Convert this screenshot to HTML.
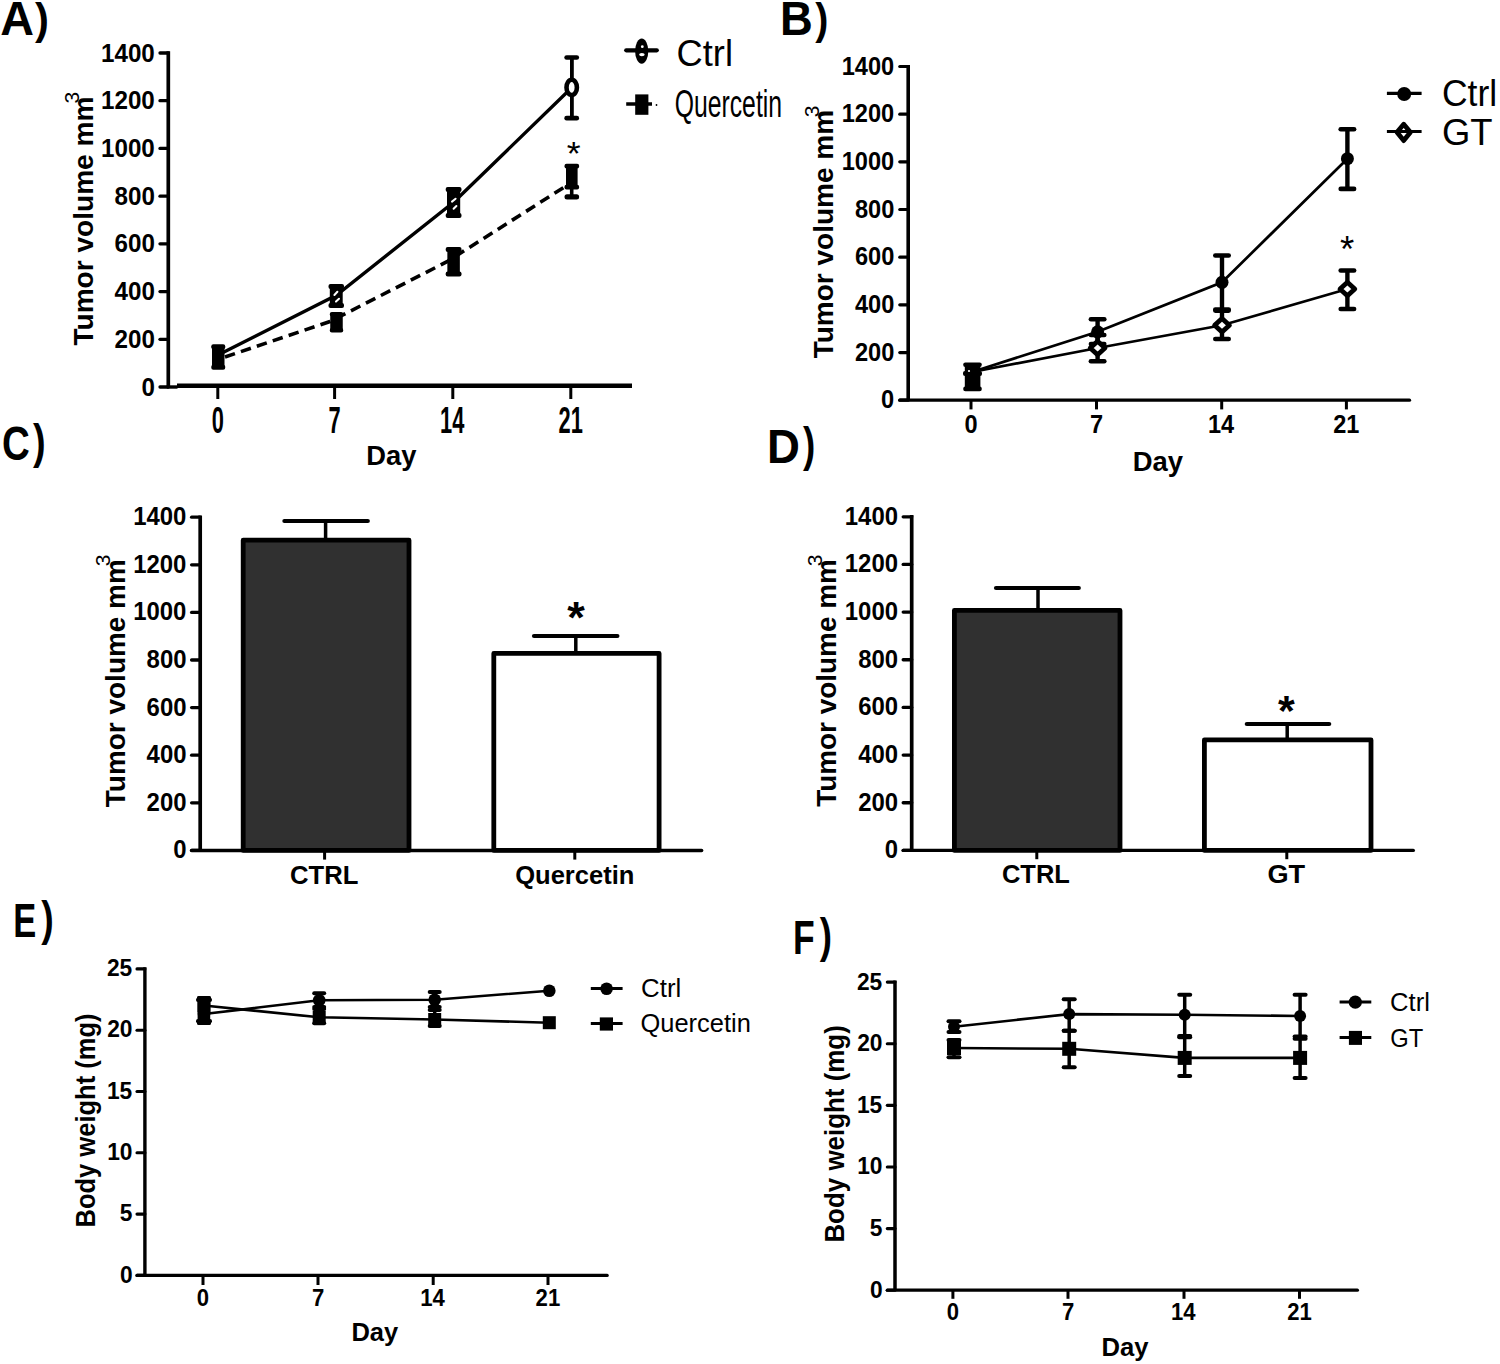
<!DOCTYPE html>
<html><head><meta charset="utf-8"><title>Figure</title>
<style>
html,body{margin:0;padding:0;background:#fff;}
body{width:1500px;height:1364px;overflow:hidden;}
svg{display:block;font-family:"Liberation Sans",sans-serif;}
</style></head><body>
<svg width="1500" height="1364" viewBox="0 0 1500 1364">
<rect x="0" y="0" width="1500" height="1364" fill="#fff"/>
<g fill="#000" stroke="#000">
<text stroke="none" x="0.3" y="34.7" font-size="47.39" font-weight="bold" textLength="33.74" lengthAdjust="spacingAndGlyphs">A</text>
<text stroke="none" x="35" y="33.74" font-size="44.09" font-weight="bold" textLength="13.91" lengthAdjust="spacingAndGlyphs">)</text>
<line x1="168.3" y1="51.3" x2="168.3" y2="387" stroke-width="3.7"/>
<line x1="160" y1="387" x2="168.3" y2="387" stroke-width="3.3" stroke-linecap="round"/>
<text stroke="none" x="141.42" y="395.5" font-size="26.3" font-weight="bold" textLength="13.46" lengthAdjust="spacingAndGlyphs">0</text>
<line x1="160" y1="339.29" x2="168.3" y2="339.29" stroke-width="3.3" stroke-linecap="round"/>
<text stroke="none" x="114.56" y="347.79" font-size="26.3" font-weight="bold" textLength="40.37" lengthAdjust="spacingAndGlyphs">200</text>
<line x1="160" y1="291.57" x2="168.3" y2="291.57" stroke-width="3.3" stroke-linecap="round"/>
<text stroke="none" x="114.56" y="300.07" font-size="26.3" font-weight="bold" textLength="40.37" lengthAdjust="spacingAndGlyphs">400</text>
<line x1="160" y1="243.86" x2="168.3" y2="243.86" stroke-width="3.3" stroke-linecap="round"/>
<text stroke="none" x="114.56" y="252.36" font-size="26.3" font-weight="bold" textLength="40.37" lengthAdjust="spacingAndGlyphs">600</text>
<line x1="160" y1="196.14" x2="168.3" y2="196.14" stroke-width="3.3" stroke-linecap="round"/>
<text stroke="none" x="114.56" y="204.64" font-size="26.3" font-weight="bold" textLength="40.37" lengthAdjust="spacingAndGlyphs">800</text>
<line x1="160" y1="148.43" x2="168.3" y2="148.43" stroke-width="3.3" stroke-linecap="round"/>
<text stroke="none" x="101.01" y="156.93" font-size="26.3" font-weight="bold" textLength="53.82" lengthAdjust="spacingAndGlyphs">1000</text>
<line x1="160" y1="100.71" x2="168.3" y2="100.71" stroke-width="3.3" stroke-linecap="round"/>
<text stroke="none" x="101.01" y="109.21" font-size="26.3" font-weight="bold" textLength="53.82" lengthAdjust="spacingAndGlyphs">1200</text>
<line x1="160" y1="53" x2="168.3" y2="53" stroke-width="3.3" stroke-linecap="round"/>
<text stroke="none" x="101.01" y="61.5" font-size="26.3" font-weight="bold" textLength="53.82" lengthAdjust="spacingAndGlyphs">1400</text>
<line x1="177" y1="385.7" x2="632" y2="385.7" stroke-width="4.4"/>
<line x1="166.8" y1="387" x2="177.5" y2="387" stroke-width="3.4"/>
<line x1="217.8" y1="386" x2="217.8" y2="399" stroke-width="3"/>
<text stroke="none" x="211.69" y="432.6" font-size="37" font-weight="bold" textLength="12.14" lengthAdjust="spacingAndGlyphs">0</text>
<line x1="334.6" y1="386" x2="334.6" y2="399" stroke-width="3"/>
<text stroke="none" x="328.6" y="432.6" font-size="37" font-weight="bold" textLength="12.14" lengthAdjust="spacingAndGlyphs">7</text>
<line x1="452.8" y1="386" x2="452.8" y2="399" stroke-width="3"/>
<text stroke="none" x="440.03" y="432.6" font-size="37" font-weight="bold" textLength="24.28" lengthAdjust="spacingAndGlyphs">14</text>
<line x1="570.8" y1="386" x2="570.8" y2="399" stroke-width="3"/>
<text stroke="none" x="558.58" y="432.6" font-size="37" font-weight="bold" textLength="24.28" lengthAdjust="spacingAndGlyphs">21</text>
<text stroke="none" x="366.29" y="464.9" font-size="28" font-weight="bold" textLength="50.13" lengthAdjust="spacingAndGlyphs">Day</text>
<text stroke="none" transform="translate(93.4,345.3) rotate(-90)" x="-0.28" y="0" font-size="28" font-weight="bold" textLength="249" lengthAdjust="spacingAndGlyphs">Tumor volume mm</text>
<text stroke="none" transform="translate(79,102.7) rotate(-90)" x="-0.84" y="0" font-size="21" font-weight="normal" textLength="11.71" lengthAdjust="spacingAndGlyphs">3</text>
<polyline points="225,357 330,321.5 447,261.7 566,186" fill="none" stroke-width="3.6" stroke-dasharray="10.5 6.3"/>
<polyline points="222,353 336.3,295.3 453.9,202 571.9,87.5" fill="none" stroke-width="3.4"/>
<rect x="212" y="345.3" width="12.5" height="23.4" fill="#000" stroke="none"/>
<rect x="211.3" y="344.3" width="13.9" height="5" rx="2" fill="#000" stroke="none"/>
<rect x="211.3" y="364.7" width="13.9" height="5" rx="2" fill="#000" stroke="none"/>
<rect x="329.8" y="285" width="12.9" height="22" fill="#000" stroke="none"/>
<rect x="328.5" y="284" width="15.5" height="5" rx="2" fill="#000" stroke="none"/>
<rect x="328.5" y="303" width="15.5" height="5" rx="2" fill="#000" stroke="none"/>
<line x1="334.4" y1="295" x2="337.4" y2="291.8" stroke="#fff" stroke-width="2" stroke-linecap="round"/>
<line x1="336" y1="301.6" x2="339" y2="298.8" stroke="#fff" stroke-width="2" stroke-linecap="round"/>
<rect x="330.25" y="313.1" width="12.5" height="18.3" fill="#000" stroke="none"/>
<rect x="329.8" y="312.1" width="13.4" height="4.5" rx="2" fill="#000" stroke="none"/>
<rect x="329.8" y="327.9" width="13.4" height="4.5" rx="2" fill="#000" stroke="none"/>
<rect x="447" y="188" width="13.2" height="29" fill="#000" stroke="none"/>
<rect x="445.7" y="187" width="15.8" height="5" rx="2" fill="#000" stroke="none"/>
<rect x="445.7" y="213" width="15.8" height="5" rx="2" fill="#000" stroke="none"/>
<line x1="452" y1="201.6" x2="455.6" y2="198.7" stroke="#fff" stroke-width="2" stroke-linecap="round"/>
<line x1="453.6" y1="208.8" x2="456.4" y2="206" stroke="#fff" stroke-width="2" stroke-linecap="round"/>
<rect x="447.35" y="248" width="12.5" height="27.5" fill="#000" stroke="none"/>
<rect x="445.7" y="247" width="15.8" height="5" rx="2" fill="#000" stroke="none"/>
<rect x="445.7" y="271.5" width="15.8" height="5" rx="2" fill="#000" stroke="none"/>
<line x1="571.9" y1="59" x2="571.9" y2="116.5" stroke-width="3.8"/>
<rect x="564.3" y="55.2" width="14.8" height="4.6" rx="2.3" fill="#000" stroke="none"/>
<rect x="564.3" y="115.8" width="14.8" height="4.8" rx="2.3" fill="#000" stroke="none"/>
<ellipse cx="571.7" cy="87.4" rx="5.2" ry="7.6" fill="#fff" stroke-width="4.6"/>
<line x1="570.5" y1="90.5" x2="572.8" y2="85.5" stroke="#fff" stroke-width="1.6" stroke-linecap="round"/>
<rect x="566" y="164.8" width="11.6" height="23.8" fill="#000" stroke="none"/>
<rect x="564.5" y="163.8" width="14.6" height="4.8" rx="2" fill="#000" stroke="none"/>
<rect x="564.5" y="184.8" width="14.6" height="4.8" rx="2" fill="#000" stroke="none"/>
<line x1="571.7" y1="189" x2="571.7" y2="196" stroke-width="3.6"/>
<rect x="564.5" y="194.2" width="14.6" height="5.2" rx="2.5" fill="#000" stroke="none"/>
<text stroke="none" x="566.79" y="164.5" font-size="34" font-weight="normal" textLength="13.9" lengthAdjust="spacingAndGlyphs">*</text>
<line x1="626.2" y1="50.3" x2="656.8" y2="50.3" stroke-width="4.2" stroke-linecap="round"/>
<ellipse cx="641.7" cy="51.1" rx="6.6" ry="12.6" fill="#000" stroke="none"/>
<circle cx="642.3" cy="46.7" r="1.4" fill="#fff" stroke="none"/>
<ellipse cx="641.9" cy="54.6" rx="2.8" ry="1.7" fill="#fff" stroke="none"/>
<text stroke="none" x="676.59" y="66.2" font-size="36" font-weight="normal" textLength="56.37" lengthAdjust="spacingAndGlyphs">Ctrl</text>
<line x1="626.2" y1="104" x2="652" y2="104" stroke-width="3.5"/>
<rect x="635.2" y="94.4" width="13.2" height="20.4" fill="#000" stroke="none"/>
<circle cx="656.5" cy="105" r="0.9" fill="#000" stroke="none"/>
<text stroke="none" x="674.76" y="117.2" font-size="38" font-weight="normal" textLength="107.25" lengthAdjust="spacingAndGlyphs">Quercetin</text>
<text stroke="none" x="779.92" y="34.7" font-size="47.54" font-weight="bold" textLength="32.79" lengthAdjust="spacingAndGlyphs">B</text>
<text stroke="none" x="815.3" y="33.64" font-size="44.09" font-weight="bold" textLength="13.08" lengthAdjust="spacingAndGlyphs">)</text>
<line x1="908.2" y1="64.9" x2="908.2" y2="400.2" stroke-width="3.6"/>
<line x1="899.8" y1="400.2" x2="908.2" y2="400.2" stroke-width="3.2" stroke-linecap="round"/>
<text stroke="none" x="881.12" y="408.4" font-size="25.4" font-weight="bold" textLength="13.14" lengthAdjust="spacingAndGlyphs">0</text>
<line x1="899.8" y1="352.53" x2="908.2" y2="352.53" stroke-width="3.2" stroke-linecap="round"/>
<text stroke="none" x="854.9" y="360.73" font-size="25.4" font-weight="bold" textLength="39.41" lengthAdjust="spacingAndGlyphs">200</text>
<line x1="899.8" y1="304.86" x2="908.2" y2="304.86" stroke-width="3.2" stroke-linecap="round"/>
<text stroke="none" x="854.9" y="313.06" font-size="25.4" font-weight="bold" textLength="39.41" lengthAdjust="spacingAndGlyphs">400</text>
<line x1="899.8" y1="257.19" x2="908.2" y2="257.19" stroke-width="3.2" stroke-linecap="round"/>
<text stroke="none" x="854.9" y="265.39" font-size="25.4" font-weight="bold" textLength="39.41" lengthAdjust="spacingAndGlyphs">600</text>
<line x1="899.8" y1="209.51" x2="908.2" y2="209.51" stroke-width="3.2" stroke-linecap="round"/>
<text stroke="none" x="854.9" y="217.71" font-size="25.4" font-weight="bold" textLength="39.41" lengthAdjust="spacingAndGlyphs">800</text>
<line x1="899.8" y1="161.84" x2="908.2" y2="161.84" stroke-width="3.2" stroke-linecap="round"/>
<text stroke="none" x="841.67" y="170.04" font-size="25.4" font-weight="bold" textLength="52.54" lengthAdjust="spacingAndGlyphs">1000</text>
<line x1="899.8" y1="114.17" x2="908.2" y2="114.17" stroke-width="3.2" stroke-linecap="round"/>
<text stroke="none" x="841.67" y="122.37" font-size="25.4" font-weight="bold" textLength="52.54" lengthAdjust="spacingAndGlyphs">1200</text>
<line x1="899.8" y1="66.5" x2="908.2" y2="66.5" stroke-width="3.2" stroke-linecap="round"/>
<text stroke="none" x="841.67" y="74.7" font-size="25.4" font-weight="bold" textLength="52.54" lengthAdjust="spacingAndGlyphs">1400</text>
<line x1="899.8" y1="400.2" x2="1409.5" y2="400.2" stroke-width="3.3" stroke-linecap="round"/>
<line x1="971" y1="400" x2="971" y2="409.4" stroke-width="3"/>
<text stroke="none" x="964.41" y="433.3" font-size="25.6" font-weight="bold" textLength="13.1" lengthAdjust="spacingAndGlyphs">0</text>
<line x1="1096.5" y1="400" x2="1096.5" y2="409.4" stroke-width="3"/>
<text stroke="none" x="1090.02" y="433.3" font-size="25.6" font-weight="bold" textLength="13.1" lengthAdjust="spacingAndGlyphs">7</text>
<line x1="1221.7" y1="400" x2="1221.7" y2="409.4" stroke-width="3"/>
<text stroke="none" x="1207.92" y="433.3" font-size="25.6" font-weight="bold" textLength="26.19" lengthAdjust="spacingAndGlyphs">14</text>
<line x1="1346.4" y1="400" x2="1346.4" y2="409.4" stroke-width="3"/>
<text stroke="none" x="1333.21" y="433.3" font-size="25.6" font-weight="bold" textLength="26.19" lengthAdjust="spacingAndGlyphs">21</text>
<text stroke="none" x="1132.78" y="471.4" font-size="28" font-weight="bold" textLength="50.34" lengthAdjust="spacingAndGlyphs">Day</text>
<text stroke="none" transform="translate(833.4,358) rotate(-90)" x="-0.28" y="0" font-size="28" font-weight="bold" textLength="248.4" lengthAdjust="spacingAndGlyphs">Tumor volume mm</text>
<text stroke="none" transform="translate(819,116.4) rotate(-90)" x="-0.84" y="0" font-size="21" font-weight="normal" textLength="11.71" lengthAdjust="spacingAndGlyphs">3</text>
<polyline points="972,372 1097.6,331.8 1222,282.3 1347.4,158.7" fill="none" stroke-width="2.7"/>
<polyline points="972,372 1097.6,348 1222,325.3 1347.4,289" fill="none" stroke-width="2.7"/>
<line x1="1097.6" y1="319.2" x2="1097.6" y2="344" stroke-width="4.4"/>
<line x1="1090.9" y1="319.2" x2="1104.3" y2="319.2" stroke-width="4.6" stroke-linecap="round"/>
<line x1="1090.9" y1="344" x2="1104.3" y2="344" stroke-width="4.6" stroke-linecap="round"/>
<line x1="1222" y1="255.5" x2="1222" y2="309.5" stroke-width="4.4"/>
<line x1="1215.3" y1="255.5" x2="1228.7" y2="255.5" stroke-width="4.6" stroke-linecap="round"/>
<line x1="1215.3" y1="309.5" x2="1228.7" y2="309.5" stroke-width="4.6" stroke-linecap="round"/>
<line x1="1347.4" y1="129.3" x2="1347.4" y2="188.9" stroke-width="4.4"/>
<line x1="1340.7" y1="129.3" x2="1354.1" y2="129.3" stroke-width="4.6" stroke-linecap="round"/>
<line x1="1340.7" y1="188.9" x2="1354.1" y2="188.9" stroke-width="4.6" stroke-linecap="round"/>
<line x1="1097.6" y1="335" x2="1097.6" y2="361.2" stroke-width="4.4"/>
<line x1="1090.9" y1="335" x2="1104.3" y2="335" stroke-width="4.6" stroke-linecap="round"/>
<line x1="1090.9" y1="361.2" x2="1104.3" y2="361.2" stroke-width="4.6" stroke-linecap="round"/>
<line x1="1222" y1="310.6" x2="1222" y2="339" stroke-width="4.4"/>
<line x1="1215.3" y1="310.6" x2="1228.7" y2="310.6" stroke-width="4.6" stroke-linecap="round"/>
<line x1="1215.3" y1="339" x2="1228.7" y2="339" stroke-width="4.6" stroke-linecap="round"/>
<line x1="1347.4" y1="270.5" x2="1347.4" y2="309" stroke-width="4.4"/>
<line x1="1340.7" y1="270.5" x2="1354.1" y2="270.5" stroke-width="4.6" stroke-linecap="round"/>
<line x1="1340.7" y1="309" x2="1354.1" y2="309" stroke-width="4.6" stroke-linecap="round"/>
<circle cx="1097.6" cy="331.8" r="6.5" fill="#000" stroke="none"/>
<circle cx="1222" cy="282.3" r="6.5" fill="#000" stroke="none"/>
<circle cx="1347.4" cy="158.7" r="6.5" fill="#000" stroke="none"/>
<path d="M1097.6,341.2 L1105,348 L1097.6,354.8 L1090.2,348 Z" fill="#fff" stroke-width="4.8" stroke-linejoin="round"/>
<path d="M1222,318.5 L1229.4,325.3 L1222,332.1 L1214.6,325.3 Z" fill="#fff" stroke-width="4.8" stroke-linejoin="round"/>
<path d="M1347.4,282.2 L1354.8,289 L1347.4,295.8 L1340,289 Z" fill="#fff" stroke-width="4.8" stroke-linejoin="round"/>
<rect x="964.8" y="363" width="15.6" height="27.6" fill="#000" stroke="none"/>
<rect x="963.2" y="362.4" width="18.6" height="4.6" rx="2.2" fill="#000" stroke="none"/>
<rect x="963.2" y="386.6" width="18.6" height="4.6" rx="2.2" fill="#000" stroke="none"/>
<rect x="963" y="371" width="19" height="5" rx="2" fill="#000" stroke="none"/>
<circle cx="969" cy="371" r="1.1" fill="#fff" stroke="none"/>
<text stroke="none" x="1340.07" y="262.43" font-size="37" font-weight="normal" textLength="14.23" lengthAdjust="spacingAndGlyphs">*</text>
<line x1="1386.9" y1="93.4" x2="1421.6" y2="93.4" stroke-width="3.2"/>
<circle cx="1404.2" cy="94" r="7" fill="#000" stroke="none"/>
<text stroke="none" x="1441.93" y="106.4" font-size="36" font-weight="normal" textLength="55.19" lengthAdjust="spacingAndGlyphs">Ctrl</text>
<path d="M1403.7,124.2 L1410.4,132.3 L1403.7,140.6 L1397,132.3 Z" fill="#fff" stroke-width="4.8" stroke-linejoin="round"/>
<line x1="1386.9" y1="131.5" x2="1421.6" y2="131.5" stroke-width="3.2"/>
<text stroke="none" x="1441.88" y="144.5" font-size="36" font-weight="normal" textLength="50.6" lengthAdjust="spacingAndGlyphs">GT</text>
<text stroke="none" x="2.06" y="459.82" font-size="47.89" font-weight="bold" textLength="27.78" lengthAdjust="spacingAndGlyphs">C</text>
<text stroke="none" x="32.9" y="458.19" font-size="48.6" font-weight="bold" textLength="12.61" lengthAdjust="spacingAndGlyphs">)</text>
<line x1="200.2" y1="515.5" x2="200.2" y2="850.4" stroke-width="3.7"/>
<line x1="191.6" y1="850.4" x2="200.2" y2="850.4" stroke-width="3.3" stroke-linecap="round"/>
<text stroke="none" x="173.16" y="858.3" font-size="26" font-weight="bold" textLength="13.3" lengthAdjust="spacingAndGlyphs">0</text>
<line x1="191.6" y1="802.8" x2="200.2" y2="802.8" stroke-width="3.3" stroke-linecap="round"/>
<text stroke="none" x="146.61" y="810.7" font-size="26" font-weight="bold" textLength="39.91" lengthAdjust="spacingAndGlyphs">200</text>
<line x1="191.6" y1="755.2" x2="200.2" y2="755.2" stroke-width="3.3" stroke-linecap="round"/>
<text stroke="none" x="146.61" y="763.1" font-size="26" font-weight="bold" textLength="39.91" lengthAdjust="spacingAndGlyphs">400</text>
<line x1="191.6" y1="707.6" x2="200.2" y2="707.6" stroke-width="3.3" stroke-linecap="round"/>
<text stroke="none" x="146.61" y="715.5" font-size="26" font-weight="bold" textLength="39.91" lengthAdjust="spacingAndGlyphs">600</text>
<line x1="191.6" y1="660" x2="200.2" y2="660" stroke-width="3.3" stroke-linecap="round"/>
<text stroke="none" x="146.61" y="667.9" font-size="26" font-weight="bold" textLength="39.91" lengthAdjust="spacingAndGlyphs">800</text>
<line x1="191.6" y1="612.4" x2="200.2" y2="612.4" stroke-width="3.3" stroke-linecap="round"/>
<text stroke="none" x="133.22" y="620.3" font-size="26" font-weight="bold" textLength="53.21" lengthAdjust="spacingAndGlyphs">1000</text>
<line x1="191.6" y1="564.8" x2="200.2" y2="564.8" stroke-width="3.3" stroke-linecap="round"/>
<text stroke="none" x="133.22" y="572.7" font-size="26" font-weight="bold" textLength="53.21" lengthAdjust="spacingAndGlyphs">1200</text>
<line x1="191.6" y1="517.2" x2="200.2" y2="517.2" stroke-width="3.3" stroke-linecap="round"/>
<text stroke="none" x="133.22" y="525.1" font-size="26" font-weight="bold" textLength="53.21" lengthAdjust="spacingAndGlyphs">1400</text>
<rect x="243.2" y="540.2" width="165.8" height="310.2" fill="#303030" stroke-width="4.8" stroke-linejoin="round"/>
<rect x="493.8" y="653.4" width="165.3" height="197" fill="#fff" stroke-width="4.8" stroke-linejoin="round"/>
<line x1="325.6" y1="540" x2="325.6" y2="521" stroke-width="3.5"/>
<line x1="284.4" y1="521" x2="367.8" y2="521" stroke-width="4.2" stroke-linecap="round"/>
<line x1="575.8" y1="653" x2="575.8" y2="636" stroke-width="3.5"/>
<line x1="534" y1="636" x2="617.4" y2="636" stroke-width="4.2" stroke-linecap="round"/>
<line x1="191.6" y1="850.4" x2="701.6" y2="850.4" stroke-width="3.5" stroke-linecap="round"/>
<line x1="324.6" y1="850" x2="324.6" y2="859.6" stroke-width="3"/>
<line x1="574.8" y1="850" x2="574.8" y2="859.6" stroke-width="3"/>
<text stroke="none" x="290.07" y="883.5" font-size="25.5" font-weight="bold" textLength="68.39" lengthAdjust="spacingAndGlyphs">CTRL</text>
<text stroke="none" x="515.18" y="883.5" font-size="25.5" font-weight="bold" textLength="119.3" lengthAdjust="spacingAndGlyphs">Quercetin</text>
<text stroke="none" x="567.2" y="633.4" font-size="45" font-weight="bold" textLength="17.56" lengthAdjust="spacingAndGlyphs">*</text>
<text stroke="none" transform="translate(124.5,806.9) rotate(-90)" x="-0.28" y="0" font-size="28" font-weight="bold" textLength="248" lengthAdjust="spacingAndGlyphs">Tumor volume mm</text>
<text stroke="none" transform="translate(109.8,565.3) rotate(-90)" x="-0.84" y="0" font-size="21" font-weight="normal" textLength="11.71" lengthAdjust="spacingAndGlyphs">3</text>
<text stroke="none" x="767.11" y="463.3" font-size="48.12" font-weight="bold" textLength="32.91" lengthAdjust="spacingAndGlyphs">D</text>
<text stroke="none" x="802.9" y="461.42" font-size="48.49" font-weight="bold" textLength="12.25" lengthAdjust="spacingAndGlyphs">)</text>
<line x1="911.7" y1="515.1" x2="911.7" y2="850.4" stroke-width="3.7"/>
<line x1="903.2" y1="850.4" x2="911.7" y2="850.4" stroke-width="3.3" stroke-linecap="round"/>
<text stroke="none" x="884.76" y="858.3" font-size="26" font-weight="bold" textLength="13.3" lengthAdjust="spacingAndGlyphs">0</text>
<line x1="903.2" y1="802.74" x2="911.7" y2="802.74" stroke-width="3.3" stroke-linecap="round"/>
<text stroke="none" x="858.21" y="810.64" font-size="26" font-weight="bold" textLength="39.91" lengthAdjust="spacingAndGlyphs">200</text>
<line x1="903.2" y1="755.09" x2="911.7" y2="755.09" stroke-width="3.3" stroke-linecap="round"/>
<text stroke="none" x="858.21" y="762.99" font-size="26" font-weight="bold" textLength="39.91" lengthAdjust="spacingAndGlyphs">400</text>
<line x1="903.2" y1="707.43" x2="911.7" y2="707.43" stroke-width="3.3" stroke-linecap="round"/>
<text stroke="none" x="858.21" y="715.33" font-size="26" font-weight="bold" textLength="39.91" lengthAdjust="spacingAndGlyphs">600</text>
<line x1="903.2" y1="659.77" x2="911.7" y2="659.77" stroke-width="3.3" stroke-linecap="round"/>
<text stroke="none" x="858.21" y="667.67" font-size="26" font-weight="bold" textLength="39.91" lengthAdjust="spacingAndGlyphs">800</text>
<line x1="903.2" y1="612.11" x2="911.7" y2="612.11" stroke-width="3.3" stroke-linecap="round"/>
<text stroke="none" x="844.82" y="620.01" font-size="26" font-weight="bold" textLength="53.21" lengthAdjust="spacingAndGlyphs">1000</text>
<line x1="903.2" y1="564.46" x2="911.7" y2="564.46" stroke-width="3.3" stroke-linecap="round"/>
<text stroke="none" x="844.82" y="572.36" font-size="26" font-weight="bold" textLength="53.21" lengthAdjust="spacingAndGlyphs">1200</text>
<line x1="903.2" y1="516.8" x2="911.7" y2="516.8" stroke-width="3.3" stroke-linecap="round"/>
<text stroke="none" x="844.82" y="524.7" font-size="26" font-weight="bold" textLength="53.21" lengthAdjust="spacingAndGlyphs">1400</text>
<rect x="954.4" y="610.4" width="165.6" height="240" fill="#303030" stroke-width="4.8" stroke-linejoin="round"/>
<rect x="1204.4" y="739.9" width="166.6" height="110.5" fill="#fff" stroke-width="4.8" stroke-linejoin="round"/>
<line x1="1038" y1="610" x2="1038" y2="588" stroke-width="3.5"/>
<line x1="996" y1="588" x2="1078.8" y2="588" stroke-width="4.2" stroke-linecap="round"/>
<line x1="1287.2" y1="740" x2="1287.2" y2="724" stroke-width="3.5"/>
<line x1="1246.8" y1="724" x2="1329.2" y2="724" stroke-width="4.2" stroke-linecap="round"/>
<line x1="903.2" y1="850.4" x2="1413.3" y2="850.4" stroke-width="3.4" stroke-linecap="round"/>
<line x1="1036.8" y1="850" x2="1036.8" y2="859.2" stroke-width="3"/>
<line x1="1286.8" y1="850" x2="1286.8" y2="859.2" stroke-width="3"/>
<text stroke="none" x="1001.98" y="883.4" font-size="25.5" font-weight="bold" textLength="67.88" lengthAdjust="spacingAndGlyphs">CTRL</text>
<text stroke="none" x="1267.51" y="883.4" font-size="25.5" font-weight="bold" textLength="37.72" lengthAdjust="spacingAndGlyphs">GT</text>
<text stroke="none" x="1278" y="724.64" font-size="42" font-weight="bold" textLength="16.77" lengthAdjust="spacingAndGlyphs">*</text>
<text stroke="none" transform="translate(836.3,806.5) rotate(-90)" x="-0.28" y="0" font-size="28" font-weight="bold" textLength="247.59" lengthAdjust="spacingAndGlyphs">Tumor volume mm</text>
<text stroke="none" transform="translate(821.7,565.3) rotate(-90)" x="-0.84" y="0" font-size="21" font-weight="normal" textLength="11.71" lengthAdjust="spacingAndGlyphs">3</text>
<text stroke="none" x="13.29" y="936.7" font-size="47.54" font-weight="bold" textLength="22.99" lengthAdjust="spacingAndGlyphs">E</text>
<text stroke="none" x="41.3" y="935.24" font-size="48.39" font-weight="bold" textLength="12.49" lengthAdjust="spacingAndGlyphs">)</text>
<line x1="144.9" y1="967.3" x2="144.9" y2="1275.4" stroke-width="3.4"/>
<line x1="137" y1="1275.4" x2="144.9" y2="1275.4" stroke-width="3.1" stroke-linecap="round"/>
<text stroke="none" x="119.95" y="1282.5" font-size="24.5" font-weight="bold" textLength="12.67" lengthAdjust="spacingAndGlyphs">0</text>
<line x1="137" y1="1214.1" x2="144.9" y2="1214.1" stroke-width="3.1" stroke-linecap="round"/>
<text stroke="none" x="119.72" y="1221.2" font-size="24.5" font-weight="bold" textLength="12.67" lengthAdjust="spacingAndGlyphs">5</text>
<line x1="137" y1="1152.8" x2="144.9" y2="1152.8" stroke-width="3.1" stroke-linecap="round"/>
<text stroke="none" x="107.19" y="1159.9" font-size="24.5" font-weight="bold" textLength="25.34" lengthAdjust="spacingAndGlyphs">10</text>
<line x1="137" y1="1091.5" x2="144.9" y2="1091.5" stroke-width="3.1" stroke-linecap="round"/>
<text stroke="none" x="106.96" y="1098.6" font-size="24.5" font-weight="bold" textLength="25.34" lengthAdjust="spacingAndGlyphs">15</text>
<line x1="137" y1="1030.2" x2="144.9" y2="1030.2" stroke-width="3.1" stroke-linecap="round"/>
<text stroke="none" x="107.19" y="1037.3" font-size="24.5" font-weight="bold" textLength="25.34" lengthAdjust="spacingAndGlyphs">20</text>
<line x1="137" y1="968.9" x2="144.9" y2="968.9" stroke-width="3.1" stroke-linecap="round"/>
<text stroke="none" x="106.96" y="976" font-size="24.5" font-weight="bold" textLength="25.34" lengthAdjust="spacingAndGlyphs">25</text>
<line x1="137" y1="1275.4" x2="607.2" y2="1275.4" stroke-width="3.2" stroke-linecap="round"/>
<line x1="203" y1="1275.3" x2="203" y2="1285" stroke-width="3"/>
<text stroke="none" x="196.8" y="1305.6" font-size="23.3" font-weight="bold" textLength="12.31" lengthAdjust="spacingAndGlyphs">0</text>
<line x1="318" y1="1275.3" x2="318" y2="1285" stroke-width="3"/>
<text stroke="none" x="311.91" y="1305.6" font-size="23.3" font-weight="bold" textLength="12.31" lengthAdjust="spacingAndGlyphs">7</text>
<line x1="433.2" y1="1275.3" x2="433.2" y2="1285" stroke-width="3"/>
<text stroke="none" x="420.25" y="1305.6" font-size="23.3" font-weight="bold" textLength="24.62" lengthAdjust="spacingAndGlyphs">14</text>
<line x1="548" y1="1275.3" x2="548" y2="1285" stroke-width="3"/>
<text stroke="none" x="535.6" y="1305.6" font-size="23.3" font-weight="bold" textLength="24.62" lengthAdjust="spacingAndGlyphs">21</text>
<text stroke="none" x="351.41" y="1341.2" font-size="26.6" font-weight="bold" textLength="46.8" lengthAdjust="spacingAndGlyphs">Day</text>
<text stroke="none" transform="translate(94.8,1225.7) rotate(-90)" x="-1.79" y="0" font-size="27" font-weight="bold" textLength="213.96" lengthAdjust="spacingAndGlyphs">Body weight (mg)</text>
<polyline points="204,1014 319.2,1000.3 434.7,999.8 549.3,990.7" fill="none" stroke-width="2.6"/>
<polyline points="204,1005.5 319.2,1017.3 434.7,1019.5 549.3,1022.7" fill="none" stroke-width="2.6"/>
<line x1="204" y1="998" x2="204" y2="1023" stroke-width="3.5"/>
<line x1="199" y1="998" x2="209" y2="998" stroke-width="4" stroke-linecap="round"/>
<line x1="199" y1="1023" x2="209" y2="1023" stroke-width="4" stroke-linecap="round"/>
<line x1="319.2" y1="993.3" x2="319.2" y2="1007" stroke-width="3.5"/>
<line x1="314.2" y1="993.3" x2="324.2" y2="993.3" stroke-width="4" stroke-linecap="round"/>
<line x1="314.2" y1="1007" x2="324.2" y2="1007" stroke-width="4" stroke-linecap="round"/>
<line x1="434.7" y1="992" x2="434.7" y2="1007" stroke-width="3.5"/>
<line x1="429.7" y1="992" x2="439.7" y2="992" stroke-width="4" stroke-linecap="round"/>
<line x1="429.7" y1="1007" x2="439.7" y2="1007" stroke-width="4" stroke-linecap="round"/>
<line x1="204" y1="998" x2="204" y2="1023" stroke-width="3.5"/>
<line x1="199" y1="998" x2="209" y2="998" stroke-width="4" stroke-linecap="round"/>
<line x1="199" y1="1023" x2="209" y2="1023" stroke-width="4" stroke-linecap="round"/>
<line x1="319.2" y1="1009" x2="319.2" y2="1023.2" stroke-width="3.5"/>
<line x1="314.2" y1="1009" x2="324.2" y2="1009" stroke-width="4" stroke-linecap="round"/>
<line x1="314.2" y1="1023.2" x2="324.2" y2="1023.2" stroke-width="4" stroke-linecap="round"/>
<line x1="434.7" y1="1010" x2="434.7" y2="1025.9" stroke-width="3.5"/>
<line x1="429.7" y1="1010" x2="439.7" y2="1010" stroke-width="4" stroke-linecap="round"/>
<line x1="429.7" y1="1025.9" x2="439.7" y2="1025.9" stroke-width="4" stroke-linecap="round"/>
<circle cx="204" cy="1014" r="6.3" fill="#000" stroke="none"/>
<circle cx="319.2" cy="1000.3" r="6.3" fill="#000" stroke="none"/>
<circle cx="434.7" cy="999.8" r="6.3" fill="#000" stroke="none"/>
<circle cx="549.3" cy="990.7" r="6.3" fill="#000" stroke="none"/>
<rect x="197.5" y="999" width="13" height="13" fill="#000" stroke="none"/>
<rect x="312.7" y="1010.8" width="13" height="13" fill="#000" stroke="none"/>
<rect x="428.2" y="1013" width="13" height="13" fill="#000" stroke="none"/>
<rect x="542.8" y="1016.2" width="13" height="13" fill="#000" stroke="none"/>
<rect x="197.6" y="998.5" width="12.6" height="24.3" fill="#000" stroke="none"/>
<rect x="196" y="997.7" width="16" height="4.4" rx="2" fill="#000" stroke="none"/>
<rect x="196" y="1018.9" width="16" height="4.4" rx="2" fill="#000" stroke="none"/>
<line x1="590.8" y1="988.6" x2="622.6" y2="988.6" stroke-width="3"/>
<circle cx="606.6" cy="988.8" r="6.3" fill="#000" stroke="none"/>
<text stroke="none" x="641.11" y="997.4" font-size="25" font-weight="normal" textLength="40.17" lengthAdjust="spacingAndGlyphs">Ctrl</text>
<line x1="590.8" y1="1023.4" x2="622.6" y2="1023.4" stroke-width="3"/>
<rect x="599.8" y="1017.4" width="13.2" height="13.2" fill="#000" stroke="none"/>
<text stroke="none" x="640.53" y="1032.4" font-size="25" font-weight="normal" textLength="110.33" lengthAdjust="spacingAndGlyphs">Quercetin</text>
<text stroke="none" x="793.02" y="953.5" font-size="48.12" font-weight="bold" textLength="21.68" lengthAdjust="spacingAndGlyphs">F</text>
<text stroke="none" x="819.7" y="951.82" font-size="48.49" font-weight="bold" textLength="12.25" lengthAdjust="spacingAndGlyphs">)</text>
<line x1="895" y1="980.5" x2="895" y2="1290.2" stroke-width="3.5"/>
<line x1="887.3" y1="1290.2" x2="895" y2="1290.2" stroke-width="3.1" stroke-linecap="round"/>
<text stroke="none" x="869.95" y="1297.6" font-size="24.5" font-weight="bold" textLength="12.67" lengthAdjust="spacingAndGlyphs">0</text>
<line x1="887.3" y1="1228.58" x2="895" y2="1228.58" stroke-width="3.1" stroke-linecap="round"/>
<text stroke="none" x="869.72" y="1235.98" font-size="24.5" font-weight="bold" textLength="12.67" lengthAdjust="spacingAndGlyphs">5</text>
<line x1="887.3" y1="1166.96" x2="895" y2="1166.96" stroke-width="3.1" stroke-linecap="round"/>
<text stroke="none" x="857.19" y="1174.36" font-size="24.5" font-weight="bold" textLength="25.34" lengthAdjust="spacingAndGlyphs">10</text>
<line x1="887.3" y1="1105.34" x2="895" y2="1105.34" stroke-width="3.1" stroke-linecap="round"/>
<text stroke="none" x="856.96" y="1112.74" font-size="24.5" font-weight="bold" textLength="25.34" lengthAdjust="spacingAndGlyphs">15</text>
<line x1="887.3" y1="1043.72" x2="895" y2="1043.72" stroke-width="3.1" stroke-linecap="round"/>
<text stroke="none" x="857.19" y="1051.12" font-size="24.5" font-weight="bold" textLength="25.34" lengthAdjust="spacingAndGlyphs">20</text>
<line x1="887.3" y1="982.1" x2="895" y2="982.1" stroke-width="3.1" stroke-linecap="round"/>
<text stroke="none" x="856.96" y="989.5" font-size="24.5" font-weight="bold" textLength="25.34" lengthAdjust="spacingAndGlyphs">25</text>
<line x1="887.3" y1="1290.2" x2="1357.4" y2="1290.2" stroke-width="3.2" stroke-linecap="round"/>
<line x1="952.9" y1="1290.2" x2="952.9" y2="1298.8" stroke-width="3"/>
<text stroke="none" x="946.72" y="1320.1" font-size="23" font-weight="bold" textLength="12.28" lengthAdjust="spacingAndGlyphs">0</text>
<line x1="1068" y1="1290.2" x2="1068" y2="1298.8" stroke-width="3"/>
<text stroke="none" x="1061.93" y="1320.1" font-size="23" font-weight="bold" textLength="12.28" lengthAdjust="spacingAndGlyphs">7</text>
<line x1="1184" y1="1290.2" x2="1184" y2="1298.8" stroke-width="3"/>
<text stroke="none" x="1171.08" y="1320.1" font-size="23" font-weight="bold" textLength="24.56" lengthAdjust="spacingAndGlyphs">14</text>
<line x1="1299.5" y1="1290.2" x2="1299.5" y2="1298.8" stroke-width="3"/>
<text stroke="none" x="1287.14" y="1320.1" font-size="23" font-weight="bold" textLength="24.56" lengthAdjust="spacingAndGlyphs">21</text>
<text stroke="none" x="1101.61" y="1356" font-size="26.6" font-weight="bold" textLength="47.01" lengthAdjust="spacingAndGlyphs">Day</text>
<text stroke="none" transform="translate(843.7,1240.8) rotate(-90)" x="-1.81" y="0" font-size="27" font-weight="bold" textLength="217.41" lengthAdjust="spacingAndGlyphs">Body weight (mg)</text>
<polyline points="954,1026.7 1069.2,1014.1 1184.7,1014.7 1300.1,1016" fill="none" stroke-width="2.6"/>
<polyline points="954,1048 1069.2,1048.8 1184.7,1057.9 1300.1,1057.9" fill="none" stroke-width="2.6"/>
<line x1="954" y1="1021.3" x2="954" y2="1032" stroke-width="3.5"/>
<line x1="948.5" y1="1021.3" x2="959.5" y2="1021.3" stroke-width="4" stroke-linecap="round"/>
<line x1="948.5" y1="1032" x2="959.5" y2="1032" stroke-width="4" stroke-linecap="round"/>
<line x1="1069.2" y1="999.2" x2="1069.2" y2="1030.7" stroke-width="3.5"/>
<line x1="1063.7" y1="999.2" x2="1074.7" y2="999.2" stroke-width="4" stroke-linecap="round"/>
<line x1="1063.7" y1="1030.7" x2="1074.7" y2="1030.7" stroke-width="4" stroke-linecap="round"/>
<line x1="1184.7" y1="994.7" x2="1184.7" y2="1036" stroke-width="3.5"/>
<line x1="1179.2" y1="994.7" x2="1190.2" y2="994.7" stroke-width="4" stroke-linecap="round"/>
<line x1="1179.2" y1="1036" x2="1190.2" y2="1036" stroke-width="4" stroke-linecap="round"/>
<line x1="1300.1" y1="994.7" x2="1300.1" y2="1036.5" stroke-width="3.5"/>
<line x1="1294.6" y1="994.7" x2="1305.6" y2="994.7" stroke-width="4" stroke-linecap="round"/>
<line x1="1294.6" y1="1036.5" x2="1305.6" y2="1036.5" stroke-width="4" stroke-linecap="round"/>
<line x1="954" y1="1040" x2="954" y2="1057.3" stroke-width="3.5"/>
<line x1="948.5" y1="1040" x2="959.5" y2="1040" stroke-width="4" stroke-linecap="round"/>
<line x1="948.5" y1="1057.3" x2="959.5" y2="1057.3" stroke-width="4" stroke-linecap="round"/>
<line x1="1069.2" y1="1030.7" x2="1069.2" y2="1067.2" stroke-width="3.5"/>
<line x1="1063.7" y1="1030.7" x2="1074.7" y2="1030.7" stroke-width="4" stroke-linecap="round"/>
<line x1="1063.7" y1="1067.2" x2="1074.7" y2="1067.2" stroke-width="4" stroke-linecap="round"/>
<line x1="1184.7" y1="1037.3" x2="1184.7" y2="1076" stroke-width="3.5"/>
<line x1="1179.2" y1="1037.3" x2="1190.2" y2="1037.3" stroke-width="4" stroke-linecap="round"/>
<line x1="1179.2" y1="1076" x2="1190.2" y2="1076" stroke-width="4" stroke-linecap="round"/>
<line x1="1300.1" y1="1038.7" x2="1300.1" y2="1077.9" stroke-width="3.5"/>
<line x1="1294.6" y1="1038.7" x2="1305.6" y2="1038.7" stroke-width="4" stroke-linecap="round"/>
<line x1="1294.6" y1="1077.9" x2="1305.6" y2="1077.9" stroke-width="4" stroke-linecap="round"/>
<circle cx="954" cy="1026.7" r="6" fill="#000" stroke="none"/>
<circle cx="1069.2" cy="1014.1" r="6" fill="#000" stroke="none"/>
<circle cx="1184.7" cy="1014.7" r="6" fill="#000" stroke="none"/>
<circle cx="1300.1" cy="1016" r="6" fill="#000" stroke="none"/>
<rect x="947" y="1041" width="14" height="14" fill="#000" stroke="none"/>
<rect x="1062.2" y="1041.8" width="14" height="14" fill="#000" stroke="none"/>
<rect x="1177.7" y="1050.9" width="14" height="14" fill="#000" stroke="none"/>
<rect x="1293.1" y="1050.9" width="14" height="14" fill="#000" stroke="none"/>
<line x1="1339.6" y1="1001.9" x2="1371.3" y2="1001.9" stroke-width="3"/>
<circle cx="1355.3" cy="1002.2" r="6.6" fill="#000" stroke="none"/>
<text stroke="none" x="1390.12" y="1011.3" font-size="25" font-weight="normal" textLength="39.85" lengthAdjust="spacingAndGlyphs">Ctrl</text>
<line x1="1339.6" y1="1037.4" x2="1371.3" y2="1037.4" stroke-width="3"/>
<rect x="1348.9" y="1030.9" width="13.1" height="14" fill="#000" stroke="none"/>
<text stroke="none" x="1390.21" y="1046.7" font-size="25" font-weight="normal" textLength="32.93" lengthAdjust="spacingAndGlyphs">GT</text>
</g>
</svg>
</body></html>
